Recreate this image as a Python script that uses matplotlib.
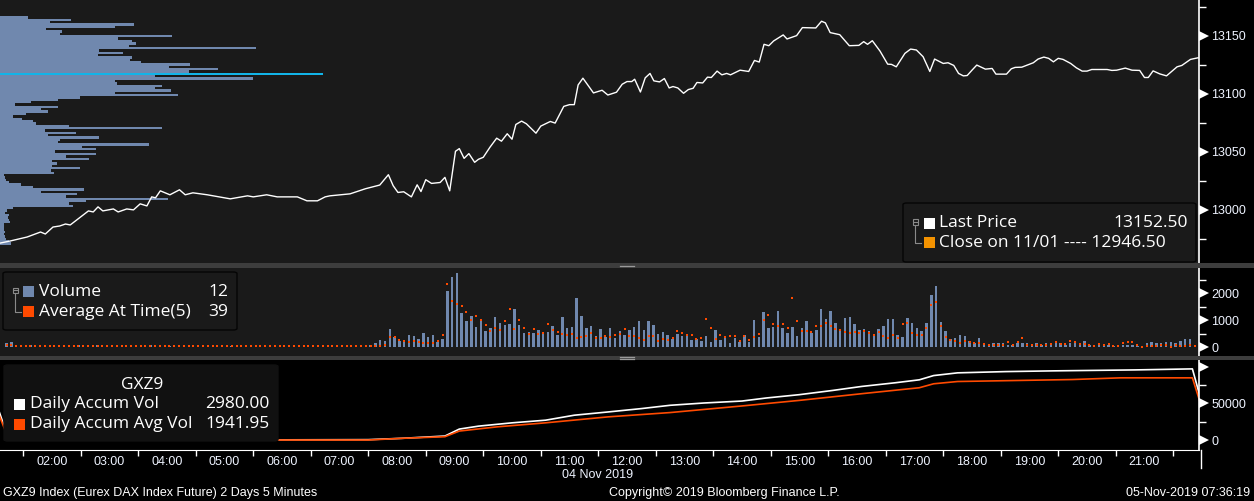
import matplotlib
matplotlib.use('Agg')
import matplotlib.pyplot as plt
import matplotlib.transforms as mtransforms
from matplotlib.patches import Rectangle, FancyBboxPatch
from matplotlib.lines import Line2D
import numpy as np

W, H = 1254, 501
BG = '#1a1a1a'
BLUE = '#7088ae'
ORANGE = '#ff4a00'
CYAN = '#12b4e8'
TXT = '#eef3ff'

# ---- data -----------------------------------------------------------------
# price (Last Price), minutes after 00:00 on 04 Nov 2019
price_min = [66, 76, 94, 108, 113, 121, 128, 134, 139, 158, 163, 168, 173, 184, 189, 198, 205, 212, 219, 224,
             228, 233, 243, 253, 259, 267, 282, 306, 324, 330, 344, 355, 376, 386, 397, 405, 410, 431, 447,
             462, 471, 476, 481, 487, 495, 501, 505, 510, 516, 525, 530, 535, 541, 545, 550, 555, 561, 565, 570,
             577, 584, 589, 595, 600, 604, 610, 615, 625, 630, 640, 645, 654, 660, 665, 669, 674, 685, 694, 700,
             709, 715, 720, 725, 728, 734, 739, 744, 748, 754, 759, 764, 768, 773, 779, 784, 789, 793, 799, 804,
             808, 814, 819, 824, 828, 838, 847, 853, 858, 863, 868, 873, 883, 887, 897, 903, 917, 923, 927, 932,
             942, 952, 962, 967, 971, 976, 984, 992, 996, 1001, 1010, 1016, 1022, 1029, 1036, 1041, 1050, 1055,
             1061, 1066, 1071, 1075, 1080, 1085, 1094, 1101, 1105, 1116, 1121, 1125, 1132, 1144, 1149, 1155,
             1160, 1165, 1170, 1175, 1183, 1189, 1195, 1200, 1205, 1221, 1226, 1231, 1240, 1247, 1255, 1260,
             1264, 1269, 1276, 1283, 1288, 1294, 1299, 1308, 1316]
price_val = [12971.5, 12973.2, 12976.7, 12981.0, 12979.3, 12985.3, 12986.2, 12987.9, 12987.1, 12999.2,
             12998.3, 13002.7, 12999.2, 13000.9, 12998.3, 13000.9, 13000.1, 13005.3, 13003.5, 13011.3,
             13010.5, 13016.5, 13013.1, 13017.4, 13013.1, 13014.8, 13013.1, 13009.6, 13012.2, 13011.3,
             13013.1, 13011.3, 13011.3, 13007.9, 13007.9, 13011.3, 13012.2, 13013.9, 13018.3,
             13021.5, 13030.4, 13020.9, 13015.1, 13015.7, 13011.3, 13021.7, 13015.9, 13026.1, 13022.9,
             13023.7, 13028.1, 13016.5, 13050.6, 13052.9, 13044.5, 13048.6, 13041.1, 13043.7, 13045.4,
             13054.1, 13061.9, 13059.3, 13065.7, 13061.0, 13073.7, 13076.6, 13074.3, 13066.2, 13072.3,
             13076.3, 13074.9, 13089.3, 13090.8, 13090.8, 13107.8, 13113.6, 13100.9, 13103.2, 13099.1,
             13101.5, 13108.4, 13110.7, 13110.7, 13112.7, 13101.7, 13113.9, 13117.7, 13111.3, 13110.4,
             13113.3, 13105.2, 13106.4, 13105.2, 13100.6, 13103.8, 13104.9, 13109.9, 13109.5, 13114.5,
             13114.2, 13119.7, 13116.5, 13117.7, 13116.5, 13120.5, 13119.4, 13128.9, 13127.5, 13142.8,
             13141.6, 13145.7, 13150.9, 13147.4, 13150.3, 13157.2, 13156.9, 13162.7, 13161.3, 13152.9,
             13151.1, 13141.6, 13141.9, 13145.1, 13142.8, 13145.9, 13137.0, 13125.7, 13125.5, 13123.4,
             13135.0, 13138.7, 13137.9, 13132.1, 13119.4, 13130.1, 13126.3, 13126.9, 13124.6, 13117.7,
             13115.6, 13115.9, 13120.5, 13124.9, 13121.4, 13122.0, 13117.1, 13117.1, 13121.7, 13122.9,
             13123.1, 13126.9, 13130.1, 13131.8, 13130.7, 13127.7, 13130.7, 13129.8, 13126.3, 13122.5,
             13119.7, 13119.7, 13121.1, 13121.1, 13120.3, 13120.5, 13122.3, 13120.5, 13120.3, 13114.2,
             13114.2, 13119.9, 13117.3, 13115.6, 13119.1, 13123.4, 13124.6, 13129.8, 13131.2]

# volume at price profile, top (13167) to bottom, 2 point bins
profile_top = 13167.0
profile_step = 2.03
profile_vol = [84, 212, 150, 402, 345, 138, 185, 180, 515, 354, 395, 407, 387, 767, 297, 368, 294, 395, 390, 422,
               570, 507, 653, 567, 968, 465, 758, 345, 352, 485, 465, 512, 345, 533, 240, 174, 93, 45, 174, 123,
               143, 78, 39, 65, 98, 108, 206, 485, 135, 228, 144, 296, 180, 174, 446, 246, 287, 165, 287, 198,
               266, 156, 170, 156, 239, 153, 161, 12, 14, 18, 27, 62, 99, 251, 122, 230, 198, 503, 257, 207,
               218, 39, 20, 16, 26, 24, 26, 29, 12, 12, 12, 14, 12, 14, 18, 27, 33]
poc_index = 24

# 5 minute volume bars from 01:10
bar_start = 70
volume = [150, 190, 25, 25, 25, 75, 25, 25, 25, 25, 25, 25, 25, 25, 25, 75, 60, 25, 25, 100,
          25, 25, 25, 25, 25, 25, 25, 25, 25, 25, 75, 25, 75, 25, 40, 40, 25, 25, 25, 25,
          25, 25, 25, 25, 25, 25, 25, 40, 25, 25, 25, 25, 25, 25, 25, 25, 25, 25, 25, 25,
          25, 25, 25, 25, 25, 25, 25, 25, 25, 25, 25, 25, 25, 25, 75, 75, 75, 150,
          264, 226, 679, 365, 239, 214, 453, 415, 289, 516, 365, 453, 201, 302, 2075, 2604, 2755, 1283, 981, 1170,
          755, 1044, 604, 717, 1132, 906, 830, 868, 1434, 830, 528, 566, 528, 642, 503, 566, 792, 453, 1132, 717,
          755, 1811, 1170, 717, 792, 415, 679, 377, 717, 340, 604, 453, 642, 755, 981, 642, 981, 830, 491, 566,
          453, 302, 491, 415, 491, 264, 302, 226, 415, 189, 642, 264, 415, 151, 340, 189, 453, 189, 1019, 377,
          1321, 717, 755, 1358, 717, 528, 755, 415,
          712, 975, 525, 637, 1425, 1050, 1350, 900, 675, 1087, 1125, 862, 637, 675, 600, 487, 675, 787, 1050, 1050,
          450, 375, 1087, 900, 712, 600, 900, 1950, 2287, 937, 600, 300, 337, 450, 412, 225, 150, 337, 150, 100,
          150, 150, 150, 100, 100, 150, 150, 150, 100, 150, 100, 150, 150, 150, 150, 100, 150, 150, 100, 225,
          100, 75, 150, 100, 100, 50, 50, 100, 100, 100, 50, 0, 150, 200, 150, 150, 200, 200, 150, 225,
          300, 300, 12]
avg_at_time = [75, 75, 40, 40, 40, 40, 40, 40, 40, 40, 40, 40, 40, 40, 40, 40, 40, 40, 40, 40,
               40, 40, 40, 40, 40, 40, 40, 40, 40, 40, 40, 40, 40, 40, 40, 40, 40, 40, 40, 40,
               40, 40, 40, 40, 40, 40, 40, 40, 40, 40, 40, 40, 40, 40, 40, 40, 40, 40, 40, 40,
               40, 40, 40, 40, 40, 40, 40, 40, 40, 40, 40, 40, 40, 40, 40, 40, 40, 40,
               38, 100, 390, 390, 264, 239, 189, 239, 189, 164, 164, 164, 226, 465, 2352, 1698, 1597, 1522, 1296, 994,
               1170, 1019, 843, 616, 717, 642, 956, 1409, 692, 994, 730, 491, 692, 491, 541, 881, 642, 579, 491, 465,
               491, 340, 390, 428, 541, 340, 340, 428, 390, 465, 491, 692, 428, 428, 340, 277, 428, 428, 239, 314,
               264, 352, 616, 541, 465, 465, 314, 352, 1031, 730, 314, 465, 390, 428, 428, 239, 428, 264, 390, 503,
               994, 1182, 881, 805, 881, 730, 1824, 956,
               612, 612, 575, 787, 787, 912, 775, 687, 650, 575, 537, 575, 537, 612, 537, 462, 575, 425, 350, 462,
               350, 875, 912, 537, 462, 462, 725, 1550, 1687, 800, 387, 262, 237, 162, 237, 200, 162, 162, 125, 75,
               75, 100, 100, 200, 75, 200, 350, 100, 75, 100, 75, 75, 125, 200, 125, 125, 237, 200, 125, 125,
               75, 37, 125, 75, 125, 37, 37, 162, 200, 200, 100, 12, 37, 37, 37, 75, 100, 12, 75, 37,
               37, 75, 39]

# daily accumulated volume (prev-day close, 04 Nov, next-day open)
accum_min = [50, 75, 280, 450, 485, 530, 545, 565, 600, 635, 665, 700, 735, 765, 800, 840, 865, 900, 935,
             965, 1000, 1025, 1040, 1065, 1115, 1165, 1250, 1310, 1330]
accum_vol = [95000, 0, 0, 500, 2300, 5400, 14900, 18900, 23400, 27000, 33800, 38200, 42800, 47300, 50400,
             53100, 57200, 61800, 67600, 73000, 78000, 82000, 87800, 91500, 93200, 94200, 95500, 96900, 2980]
accum_avg_min = [50, 75, 450, 485, 530, 545, 585, 635, 700, 765, 840, 900, 965, 1025, 1040, 1065, 1185, 1235,
                 1310, 1330]
accum_avg = [83000, 0, 0, 2300, 4500, 12200, 18000, 23400, 31500, 37400, 46400, 54000, 63100, 71200, 76600,
             79700, 82400, 84700, 84700, 1942]

hour_labels = list(range(2, 22))

# ---- layout helpers (pixels -> figure fraction) ----------------------------
def fx(x):
    return x / W

def fy(y):
    return 1 - y / H

def panel(y0, y1):
    return [0, 1 - y1 / H, 1199 / W, (y1 - y0) / H]

XLIM = (65.7, 1316.9)

fig = plt.figure(figsize=(W / 100, H / 100), dpi=100, facecolor='black')
plt.rcParams['font.family'] = ['Liberation Sans', 'DejaVu Sans']

ax_prof = fig.add_axes(panel(0, 263), facecolor=BG, zorder=1)
ax_p = fig.add_axes(panel(0, 263), facecolor='none', zorder=2)
ax_v = fig.add_axes(panel(268, 355.5), facecolor=BG)
ax_a = fig.add_axes(panel(360, 450), facecolor='black')


def style_axis(ax, ylim, majors, minors, labels):
    ax.set_xlim(*XLIM)
    ax.set_ylim(*ylim)
    for s in ['top', 'left', 'bottom']:
        ax.spines[s].set_visible(False)
    ax.spines['right'].set_color('white')
    ax.spines['right'].set_linewidth(1.2)
    ax.yaxis.tick_right()
    ax.set_yticks(majors)
    ax.set_yticklabels(labels)
    ax.set_yticks(minors, minor=True)
    ax.tick_params(axis='y', which='major', length=0, pad=9, labelsize=9, labelcolor=TXT)
    ax.tick_params(axis='y', which='minor', length=5, width=1, color='white', direction='out')
    ax.tick_params(axis='x', which='both', bottom=False, labelbottom=False)
    # white arrow heads at the labelled ticks
    tr = ax.get_yaxis_transform() + mtransforms.ScaledTranslation(5 / 100, 0, fig.dpi_scale_trans)
    ax.plot([1.0] * len(majors), majors, ls='none', marker='>', ms=7, color='white', mew=0,
            transform=tr, clip_on=False)


# ---- price panel -----------------------------------------------------------
levels = profile_top - profile_step * (np.arange(len(profile_vol)) + 0.5)
colors = [CYAN if i == poc_index else BLUE for i in range(len(profile_vol))]
ax_prof.barh(levels, profile_vol, height=profile_step, color=colors, linewidth=0)
ax_prof.set_xlim(0, 1199 * 3)
ax_prof.set_ylim(12954.3, 13181)
ax_prof.set_xticks([])
ax_prof.set_yticks([])
for s in ax_prof.spines.values():
    s.set_visible(False)

ax_p.plot(price_min, price_val, color='white', lw=1.0)
style_axis(ax_p, (12954.3, 13181), [13000, 13050, 13100, 13150], [12975, 13025, 13075, 13125, 13175],
           ['13000', '13050', '13100', '13150'])

# ---- volume panel ----------------------------------------------------------
vt = bar_start + 2.5 + 5 * np.arange(len(volume))
ax_v.bar(vt, volume, width=2.6, color=BLUE, linewidth=0)
ax_v.plot(vt, avg_at_time, ls='none', marker='s', ms=1.8, mew=0, color=ORANGE)
style_axis(ax_v, (-304, 2937), [0, 1000, 2000], [500, 1500, 2500], ['0', '1000', '2000'])

# ---- accumulated volume panel ----------------------------------------------
ax_a.plot(accum_min, accum_vol, color='white', lw=1.2)
ax_a.plot(accum_avg_min, accum_avg, color=ORANGE, lw=1.2)
style_axis(ax_a, (-13600, 109000), [0, 50000, 100000], [25000, 75000], ['0', '50000', ''])
ax_a.spines['bottom'].set_visible(True)
ax_a.spines['bottom'].set_color('white')
ax_a.set_xticks([h * 60 for h in hour_labels])
ax_a.set_xticklabels(['%02d:00' % h for h in hour_labels])
ax_a.set_xticks([h * 60 + 30 for h in range(1, 22)], minor=True)
ax_a.tick_params(axis='x', which='major', bottom=True, labelbottom=True, length=0, pad=4,
                 labelsize=9, labelcolor=TXT)
ax_a.tick_params(axis='x', which='minor', bottom=True, length=4, width=1, color='white')

# ---- separators ------------------------------------------------------------
for y0, y1 in [(263, 268), (355.5, 360)]:
    fig.add_artist(Rectangle((0, fy(y1)), 1, (y1 - y0) / H, transform=fig.transFigure,
                             facecolor='#3d3d3d', edgecolor='none', zorder=5))
for y in [265.7, 357.3, 359.0]:
    fig.add_artist(Line2D([fx(620), fx(634)], [fy(y), fy(y)], color='#9a9a9a', lw=0.9, zorder=6))
fig.add_artist(Line2D([fx(1200.5), fx(1200.5)], [fy(450), fy(468)], color='white', lw=1.0))

# ---- legends ---------------------------------------------------------------
def legend_box(x0, y0, x1, y1, fc, ec):
    fig.add_artist(FancyBboxPatch((fx(x0), fy(y1)), fx(x1 - x0), (y1 - y0) / H,
                                  boxstyle='round,pad=0,rounding_size=0.003', transform=fig.transFigure,
                                  facecolor=fc, edgecolor=ec, lw=1.0, zorder=8))


def tree_icon(x, y_top, y_bottom):
    fig.add_artist(Rectangle((fx(x - 2.5), fy(y_top + 2.5)), 5 / W, 5 / H, transform=fig.transFigure,
                             facecolor='none', edgecolor='#8a8a8a', lw=0.8, zorder=9))
    fig.add_artist(Line2D([fx(x - 1.5), fx(x + 1.5)], [fy(y_top), fy(y_top)], color='#8a8a8a', lw=0.8, zorder=9))
    fig.add_artist(Line2D([fx(x), fx(x), fx(x + 6)], [fy(y_top + 2.5), fy(y_bottom), fy(y_bottom)],
                          color='#8a8a8a', lw=0.8, zorder=9))


def swatch(x, y, color):
    fig.add_artist(Rectangle((fx(x), fy(y + 5.5)), 11 / W, 11 / H, transform=fig.transFigure,
                             facecolor=color, edgecolor='none', zorder=9))


def ltext(x, y, s, ha='left'):
    fig.text(fx(x), fy(y), s, color='white', fontsize=12.5, ha=ha, va='center', zorder=10,
             family=['Open Sans', 'DejaVu Sans'])


legend_box(903, 203, 1196, 262, BG, '#050505')
tree_icon(915, 222, 243)
swatch(924, 223, 'white')
swatch(924, 242.5, '#f39200')
ltext(939, 223, 'Last Price')
ltext(1188, 223, '13152.50', ha='right')
ltext(939, 243, 'Close on 11/01 ---- 12946.50')

legend_box(3, 272, 237, 330, BG, '#050505')
tree_icon(15, 290, 311.5)
swatch(23, 291.5, BLUE)
swatch(23, 311.5, ORANGE)
ltext(39, 291.5, 'Volume')
ltext(228, 291.5, '12', ha='right')
ltext(39, 311.5, 'Average At Time(5)')
ltext(228, 311.5, '39', ha='right')

legend_box(4, 365, 278, 441, '#111111', '#111111')
ltext(142, 385, 'GXZ9', ha='center')
swatch(14, 404, 'white')
swatch(14, 424, ORANGE)
ltext(30, 404, 'Daily Accum Vol')
ltext(270, 404, '2980.00', ha='right')
ltext(30, 424, 'Daily Accum Avg Vol')
ltext(270, 424, '1941.95', ha='right')

# ---- footer ----------------------------------------------------------------
fig.text(fx(598), fy(475), '04 Nov 2019', color=TXT, fontsize=9, ha='center', va='center')
fig.text(fx(3), fy(493), 'GXZ9 Index (Eurex DAX Index Future) 2 Days 5 Minutes', color='white',
         fontsize=9, ha='left', va='center')
fig.text(fx(724), fy(493), 'Copyright\u00a9 2019 Bloomberg Finance L.P.', color='white', fontsize=9,
         ha='center', va='center')
fig.text(fx(1250), fy(493), '05-Nov-2019 07:36:19', color='white', fontsize=9, ha='right', va='center')

fig.savefig('out.png', dpi=100, facecolor='black')
